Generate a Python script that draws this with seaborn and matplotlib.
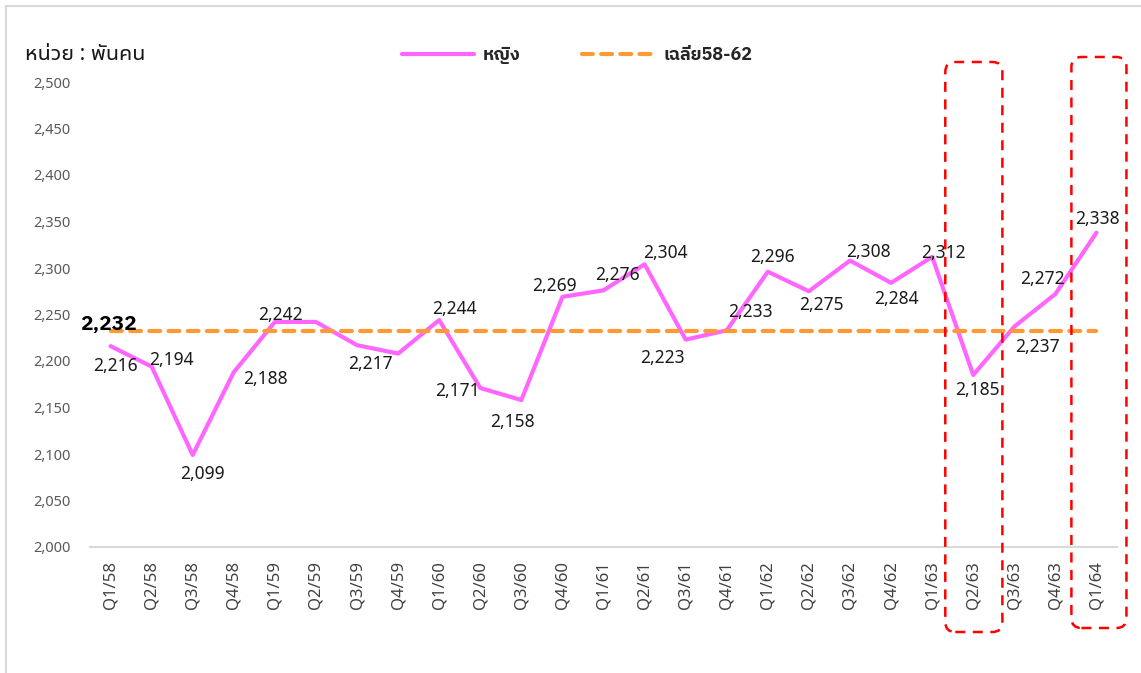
import matplotlib
matplotlib.use("Agg")
import matplotlib.pyplot as plt
import seaborn as sns
import pandas as pd
from matplotlib import font_manager
from matplotlib.patches import FancyBboxPatch
from matplotlib.lines import Line2D
from matplotlib.transforms import IdentityTransform

# ---------------- data ----------------
quarters = ["Q1/58", "Q2/58", "Q3/58", "Q4/58",
            "Q1/59", "Q2/59", "Q3/59", "Q4/59",
            "Q1/60", "Q2/60", "Q3/60", "Q4/60",
            "Q1/61", "Q2/61", "Q3/61", "Q4/61",
            "Q1/62", "Q2/62", "Q3/62", "Q4/62",
            "Q1/63", "Q2/63", "Q3/63", "Q4/63",
            "Q1/64"]
women = [2216, 2194, 2099, 2188,
         2242, 2242, 2217, 2208,
         2244, 2171, 2158, 2269,
         2276, 2304, 2223, 2233,
         2296, 2275, 2308, 2284,
         2312, 2185, 2237, 2272,
         2338]
avg_58_62 = 2232
y_ticks = [2000, 2050, 2100, 2150, 2200, 2250, 2300, 2350, 2400, 2450, 2500]
unit_label = "หน่วย : พันคน"
series_name = "หญิง"
avg_name = "เฉลี่ย58-62"
highlight = ["Q2/63", "Q1/64"]

# label placement (pixel offsets right / down from the point); None = no label
label_offsets = [(5, 20), (20, -7), (10, 19), (32, 7),
                 (6, -7), None, (13, 19), None,
                 (15, -11), (-23, 3), (-9, 22), (-8, -11),
                 (14, -15), (21, -11), (-23, 18), (24, -18),
                 (5, -15), (13, 14), (18, -9), (5, 16),
                 (11, -4), (4, 15), (23, 20), (-13, -15),
                 (1, -14)]

# ---------------- fonts ----------------
def has_bold(fam):
    return any(f.name == fam and (f.weight in ("bold", "semibold", "demibold", "heavy")
                                  or (isinstance(f.weight, int) and f.weight >= 600))
               for f in font_manager.fontManager.ttflist)

bold_thai = next((fam for fam in ["Noto Sans Thai UI", "Noto Sans Thai",
                                  "IBM Plex Sans Thai", "Sarabun", "Kanit", "Krub"]
                  if has_bold(fam)), "Noto Sans Thai UI")
bold_fams = [bold_thai, "Noto Sans", "DejaVu Sans"]

sns.set_theme(style="white")
plt.rcParams["font.family"] = ["Noto Sans Thai UI", "Noto Sans", "DejaVu Sans"]

W, H, DPI = 1141, 673, 100
fig = plt.figure(figsize=(W / DPI, H / DPI), dpi=DPI)
fig.patch.set_facecolor("white")
ax = fig.add_axes([90 / W, 1 - 547 / H, (1117 - 90) / W, (547 - 82) / H])

pink = "#FF66FF"
orange = "#FF9933"

df = pd.DataFrame({"quarter": quarters, "value": women})
sns.lineplot(data=df, x="quarter", y="value", color=pink, linewidth=3.0,
             ax=ax, sort=False, legend=False)
ax.lines[-1].set_solid_capstyle("round")
ax.lines[-1].set_solid_joinstyle("round")

df_avg = pd.DataFrame({"quarter": [quarters[0], quarters[-1]],
                       "value": [avg_58_62, avg_58_62]})
sns.lineplot(data=df_avg, x="quarter", y="value", color=orange, linewidth=3.0,
             ax=ax, sort=False, legend=False)
avg_line = ax.lines[-1]
avg_line.set_linestyle((0, (2.6, 2.0)))
avg_line.set_dash_capstyle("round")

ax.set_xlim(-0.5, len(quarters) - 0.5)
ax.set_ylim(y_ticks[0], y_ticks[-1])
ax.set_yticks(y_ticks)
ax.set_yticklabels([f"{v:,}" for v in y_ticks], color="#595959", fontsize=10.5)
ax.set_xticks(range(len(quarters)))
ax.set_xticklabels(quarters, rotation=90, color="#404040", fontsize=12)
ax.tick_params(axis="both", length=0)
ax.tick_params(axis="x", pad=10)
ax.tick_params(axis="y", pad=14)
ax.set_xlabel("")
ax.set_ylabel("")
for s in ["top", "right", "left"]:
    ax.spines[s].set_visible(False)
ax.spines["bottom"].set_color("#D9D9D9")
ax.spines["bottom"].set_linewidth(1.5)
ax.grid(False)

# data labels
for i, (q, v) in enumerate(zip(quarters, women)):
    off = label_offsets[i]
    if off is None:
        continue
    ax.annotate(f"{v:,}", xy=(i, v), xytext=(off[0], -off[1]),
                textcoords="offset pixels", ha="center", va="center",
                fontsize=12.5, color="#1a1a1a")

ax.annotate(f"{avg_58_62:,}", xy=(0, avg_58_62), xytext=(-2, 7),
            textcoords="offset pixels", ha="center", va="center",
            fontsize=15, fontweight="bold", family=bold_fams, color="#000000")

# unit text
fig.text(25 / W, 1 - 55 / H, unit_label, ha="left", va="center",
         fontsize=15.5, color="#1a1a1a")

# legend
handles = [Line2D([], [], color=pink, linewidth=3.0, solid_capstyle="round"),
           Line2D([], [], color=orange, linewidth=3.0, linestyle=(0, (2.6, 2.0)),
                  dash_capstyle="round")]
fig.legend(handles, [series_name, avg_name], loc="center",
           bbox_to_anchor=(577 / W, 1 - 55 / H), ncol=2, frameon=False,
           prop={"size": 13, "weight": "bold", "family": bold_fams},
           handlelength=4.0, handletextpad=0.5, columnspacing=3.4)

# highlight boxes (red dashed, rounded)
box_specs = {"Q2/63": (-0.68, 0.71, 62, 632), "Q1/64": (-0.61, 0.73, 57, 628)}
fig.canvas.draw()
for q in highlight:
    i = quarters.index(q)
    lo, hi, ytop, ybot = box_specs[q]
    x0 = ax.transData.transform((i + lo, y_ticks[0]))[0]
    x1 = ax.transData.transform((i + hi, y_ticks[0]))[0]
    box = FancyBboxPatch((x0, H - ybot), x1 - x0, ybot - ytop,
                         boxstyle="round,pad=0,rounding_size=10",
                         transform=IdentityTransform(), fill=False,
                         edgecolor="#FF0000", linewidth=1.8,
                         linestyle=(0, (4, 3)), clip_on=False)
    fig.add_artist(box)

# chart border (left + top)
fig.add_artist(Line2D([5.5 / W, 5.5 / W], [0, 1 - 6 / H], color="#D9D9D9",
                      linewidth=1.5, transform=fig.transFigure))
fig.add_artist(Line2D([5.5 / W, 1], [1 - 6 / H, 1 - 6 / H], color="#D9D9D9",
                      linewidth=1.5, transform=fig.transFigure))

fig.savefig("out.png", dpi=DPI, facecolor="white")
